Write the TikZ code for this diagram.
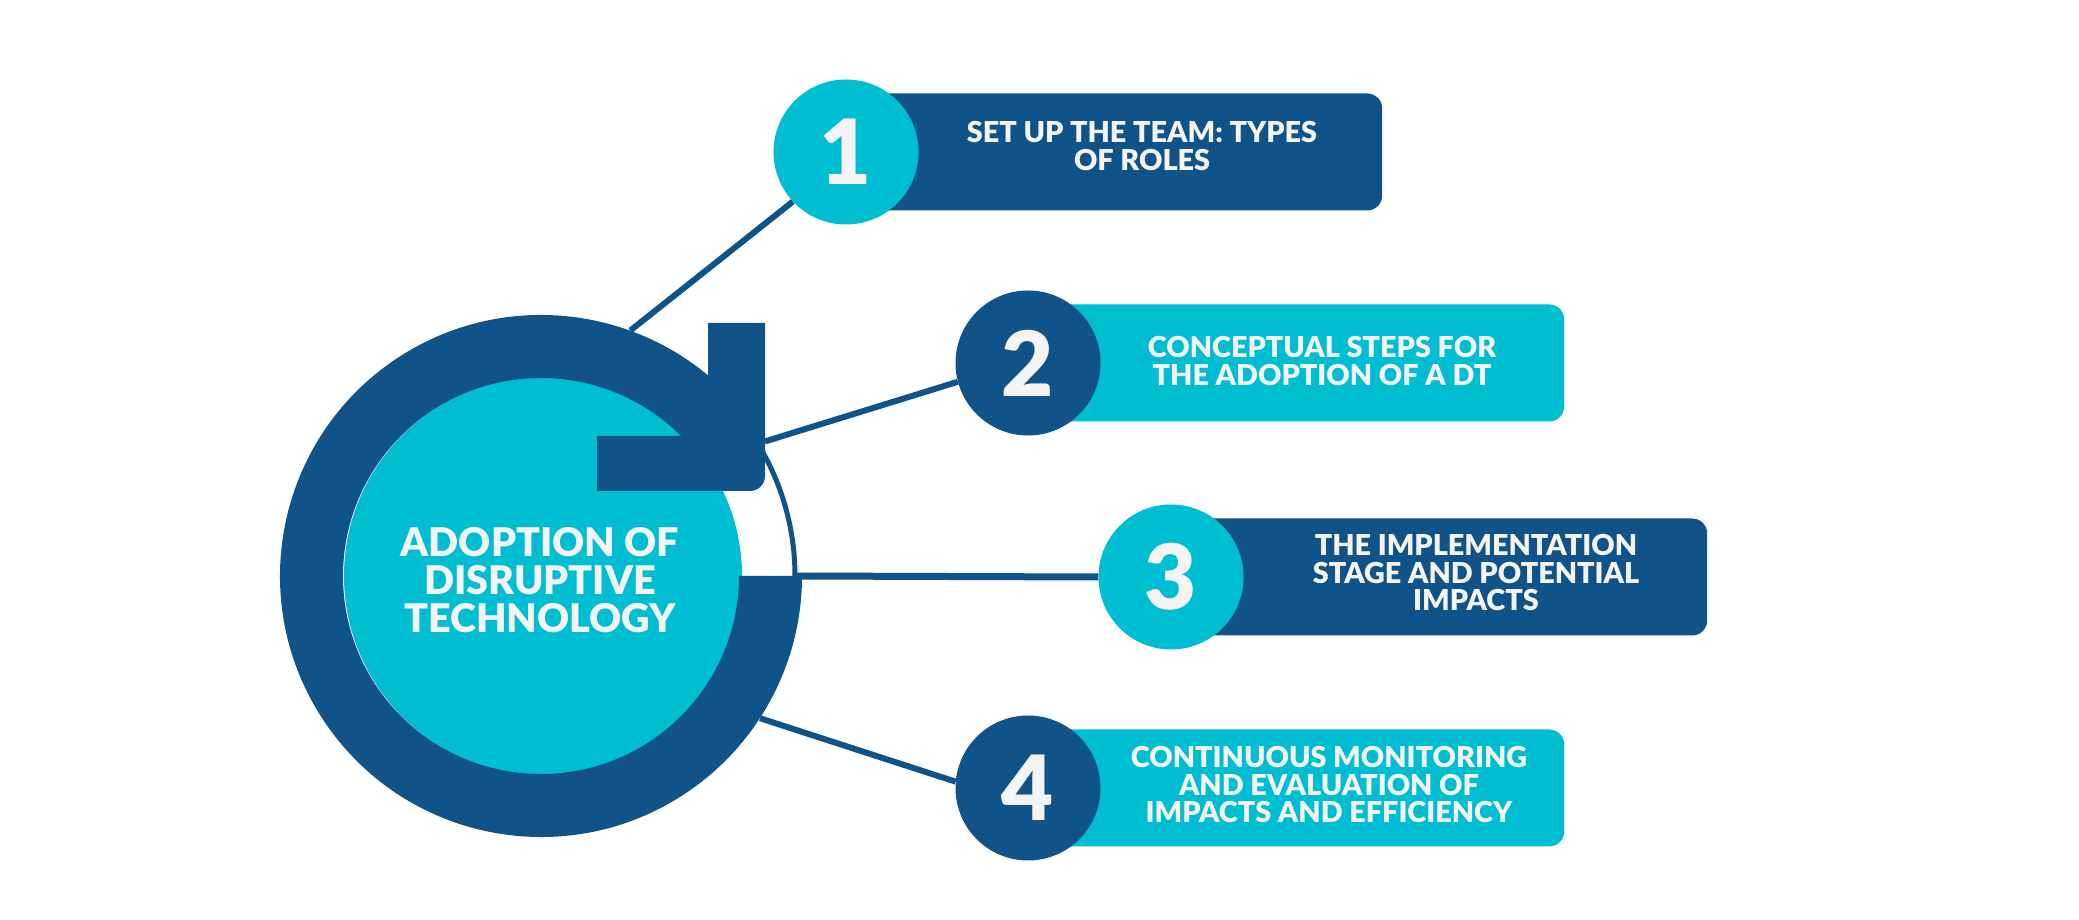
\documentclass[tikz,border=0pt]{standalone}
\usepackage{fontspec}
\setmainfont{Lato}
\newfontfamily\heavy{Lato Black}
\definecolor{dk}{HTML}{0F5389}
\definecolor{cy}{HTML}{00BED2}
\definecolor{tx}{HTML}{F4F4F4}
\pgfdeclarelayer{back}
\pgfdeclarelayer{bg}
\pgfsetlayers{back,bg,main}
\tikzset{
  numc/.style={circle, minimum size=145pt, inner sep=0pt, text=tx,
    font=\fontsize{90}{90}\selectfont\heavy},
  stepbox/.style={rounded corners=15pt, minimum width=536pt, minimum height=117pt,
    inner sep=0pt, anchor=west},
  lbl/.style={text=tx, align=center, inner sep=0pt,
    font=\fontsize{28.8}{27.5}\selectfont\heavy},
  conn/.style={draw=dk, line width=6pt},
}
\begin{document}
\begin{tikzpicture}[x=1pt,y=1pt]
\useasboundingbox (0,0) rectangle (2079,920);
\begin{pgfonlayer}{back}
\fill[white] (0,0) rectangle (2079,920);
\end{pgfonlayer}
% anchor node for the big circle
\node[circle, minimum size=522pt, inner sep=0pt] (big) at (541,344) {};
\coordinate (arcpt) at (795,344);
% inner cyan disc
\fill[cy] (543,344) circle[radius=199];
% dark ring
\fill[dk] (541,344) ++(35:261) arc[start angle=35, end angle=360, radius=261]
  -- ++(-63,0) arc[start angle=360, end angle=35, radius=198] -- cycle;
% thin arc in the gap
\draw[dk, line width=5pt] (541,344) ++(-3:254) arc[start angle=-3, end angle=36, radius=254];
% L-shaped arrow head
\fill[dk] (708,597) -- (765,597) [rounded corners=15pt] -- (765,429) [sharp corners] -- (597,429)
  -- (597,484) -- (708,484) -- cycle;
\node[text=tx, align=center, inner sep=0pt, font=\fontsize{39.5}{38}\selectfont\heavy]
  (ctext) at (540,340) {ADOPTION OF\\DISRUPTIVE\\TECHNOLOGY};
% boxes
\node[stepbox, fill=dk] (b1) at (846,768) {};
\node[stepbox, fill=cy] (b2) at (1028,557) {};
\node[stepbox, fill=dk] (b3) at (1171,343) {};
\node[stepbox, fill=cy] (b4) at (1028,132) {};
% number circles
\node[numc, fill=cy] (n1) at (846,768) {1};
\node[numc, fill=dk] (n2) at (1028,557) {2};
\node[numc, fill=cy] (n3) at (1171,343) {3};
\node[numc, fill=dk] (n4) at (1028,132) {4};
% labels
\node[lbl] (t1) at (1142,774) {SET UP THE TEAM: TYPES\\OF ROLES};
\node[lbl] (t2) at (1322,559) {CONCEPTUAL STEPS FOR\\THE ADOPTION OF A DT};
\node[lbl] (t3) at (1476,347) {THE IMPLEMENTATION\\STAGE AND POTENTIAL\\IMPACTS};
\node[lbl] (t4) at (1329,135) {CONTINUOUS MONITORING\\AND EVALUATION OF\\IMPACTS AND EFFICIENCY};
% connectors
\begin{pgfonlayer}{bg}
\draw[conn] (big.70) -- (n1.223);
\draw[conn] (big.31) -- (n2.195);
\draw[conn, line width=7pt] (arcpt) -- (n3.west);
\draw[conn] (big.-33) -- (n4.175);
\end{pgfonlayer}
\end{tikzpicture}
\end{document}
